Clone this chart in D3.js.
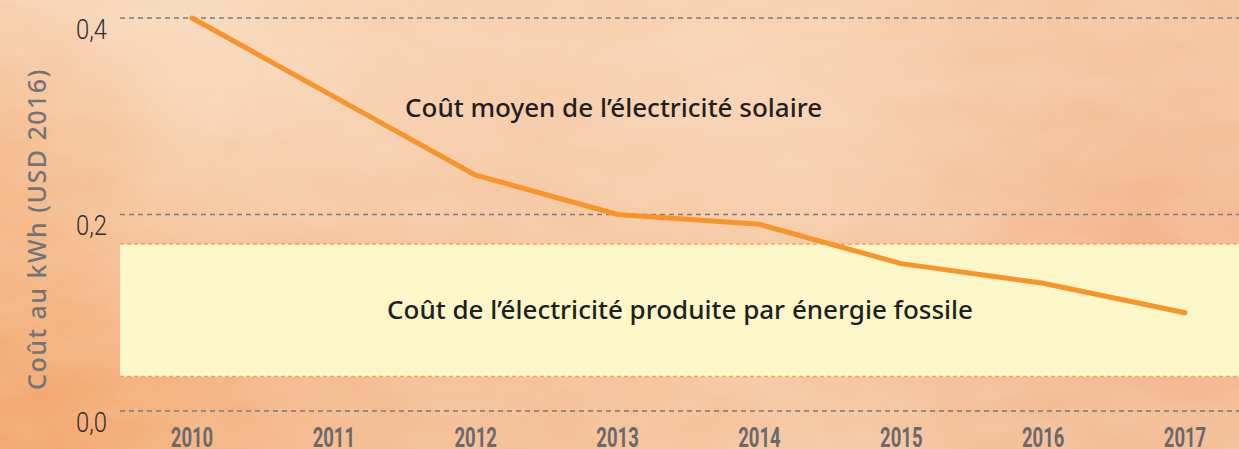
<!DOCTYPE html>
<meta charset="utf-8">
<style>
body {
  margin: 0;
  width: 1239px;
  height: 449px;
  overflow: hidden;
}
svg { display: block; }
.grid line { stroke: #7b7b7b; stroke-width: 1.5px; stroke-dasharray: 5 4; }
.ytick { font-family: Roboto, 'DejaVu Sans', sans-serif; font-size: 28px; fill: #2f2f2f; font-weight: 300; }
.xtick { font-family: Roboto, 'DejaVu Sans', sans-serif; font-size: 28px; font-weight: bold; fill: #686a6e; }
.ytitle { font-family: 'Noto Sans', sans-serif; font-size: 25px; font-weight: 500; fill: #737477; }
.note { font-family: 'Noto Sans', sans-serif; font-size: 26px; font-weight: 500; fill: #1f1f1f; }
.solar { fill: none; stroke: #f7942a; stroke-width: 5px; stroke-linejoin: round; stroke-linecap: round; }
.band-edge { stroke: #f7a35c; stroke-width: 1.5px; stroke-dasharray: 4 3; }
</style>
<body>
<script src="https://cdn.jsdelivr.net/npm/d3@7"></script>
<script>

var years = [2010, 2011, 2012, 2013, 2014, 2015, 2016, 2017];
var solarCost = [0.40, 0.32, 0.24, 0.20, 0.19, 0.15, 0.13, 0.10];
var fossilRange = [0.035, 0.17];
var yTicks = [0, 0.2, 0.4];

var width = 1239, height = 449;

var svg = d3.select("body").append("svg")
    .attr("width", width)
    .attr("height", height);

var defs = svg.append("defs");

// watercolour-ish background
var blobs = [
  { id: "b1", cx: 0.03, cy: 0.95, r: 0.35, c: "#f2a062", o: 0.9 },
  { id: "b2", cx: 0.92, cy: 0.55, r: 0.30, c: "#f0a476", o: 0.75 },
  { id: "b3", cx: 0.15, cy: 0.05, r: 0.30, c: "#f9e0c6", o: 0.7 },
  { id: "b4", cx: 0.58, cy: 0.25, r: 0.35, c: "#f9dcc0", o: 0.6 },
  { id: "b5", cx: 0.95, cy: 0.05, r: 0.25, c: "#f6c9a6", o: 0.6 },
  { id: "b6", cx: 0.45, cy: 1.0, r: 0.35, c: "#f3b283", o: 0.55 },
  { id: "b7", cx: 0.0, cy: 0.4, r: 0.15, c: "#f4b07a", o: 0.6 }
];

blobs.forEach(function(b) {
  var g = defs.append("radialGradient").attr("id", b.id)
      .attr("cx", b.cx).attr("cy", b.cy).attr("r", b.r)
      .attr("gradientTransform", "scale(1," + (width / height) + ") translate(0," + (-b.cy + b.cy * height / width) + ")");
  g.append("stop").attr("offset", 0).attr("stop-color", b.c).attr("stop-opacity", b.o);
  g.append("stop").attr("offset", 1).attr("stop-color", b.c).attr("stop-opacity", 0);
});

var noise = defs.append("filter").attr("id", "grain")
    .attr("x", 0).attr("y", 0).attr("width", "100%").attr("height", "100%");
noise.append("feTurbulence").attr("type", "fractalNoise")
    .attr("baseFrequency", "0.012 0.03").attr("numOctaves", 3).attr("seed", 7);
noise.append("feColorMatrix").attr("type", "matrix")
    .attr("values", "0 0 0 0 1  0 0 0 0 0.95  0 0 0 0 0.9  0 0 0 0.35 -0.05");

svg.append("rect").attr("width", width).attr("height", height).attr("fill", "#f5c8a3");
blobs.forEach(function(b) {
  svg.append("rect").attr("width", width).attr("height", height).attr("fill", "url(#" + b.id + ")");
});
svg.append("rect").attr("width", width).attr("height", height)
    .attr("filter", "url(#grain)").attr("opacity", 0.55);

var x = d3.scalePoint().domain(years).range([192, 1185]);
var y = d3.scaleLinear().domain([0, 0.4]).range([411, 18]);
var plotLeft = 120;

// fossil cost band
svg.append("rect")
    .attr("x", plotLeft)
    .attr("y", y(fossilRange[1]))
    .attr("width", width - plotLeft)
    .attr("height", y(fossilRange[0]) - y(fossilRange[1]))
    .attr("fill", "#fbf7c9");

svg.selectAll("line.band-edge")
    .data(fossilRange)
    .enter().append("line")
    .attr("class", "band-edge")
    .attr("x1", plotLeft).attr("x2", width)
    .attr("y1", function(d) { return y(d); })
    .attr("y2", function(d) { return y(d); });

// grid
svg.append("g").attr("class", "grid")
  .selectAll("line")
    .data(yTicks)
    .enter().append("line")
    .attr("x1", plotLeft).attr("x2", width)
    .attr("y1", function(d) { return y(d); })
    .attr("y2", function(d) { return y(d); });

svg.selectAll("text.ytick")
    .data(yTicks)
    .enter().append("text")
    .attr("class", "ytick")
    .attr("text-anchor", "end")
    .attr("transform", function(d) { return "translate(107," + (y(d) + 20.5) + ") scale(0.85,1)"; })
    .text(function(d) { return d3.format(".1f")(d).replace(".", ","); });

svg.selectAll("text.xtick")
    .data(years)
    .enter().append("text")
    .attr("class", "xtick")
    .attr("text-anchor", "middle")
    .attr("transform", function(d) { return "translate(" + x(d) + ",447) scale(0.66,1)"; })
    .text(function(d) { return d; });

svg.append("text")
    .attr("class", "ytitle")
    .attr("transform", "translate(46,229) rotate(-90)")
    .attr("text-anchor", "middle")
    .attr("letter-spacing", "1.5px")
    .text("Coût au kWh (USD 2016)");

// solar line
var line = d3.line()
    .x(function(d, i) { return x(years[i]); })
    .y(function(d) { return y(d); });

svg.append("path")
    .datum(solarCost)
    .attr("class", "solar")
    .attr("d", line);

svg.append("text")
    .attr("class", "note")
    .attr("x", 405).attr("y", 117)
    .text("Coût moyen de l’électricité solaire");

svg.append("text")
    .attr("class", "note")
    .attr("x", 680).attr("y", 319)
    .attr("text-anchor", "middle")
    .text("Coût de l’électricité produite par énergie fossile");

</script>
</body>
